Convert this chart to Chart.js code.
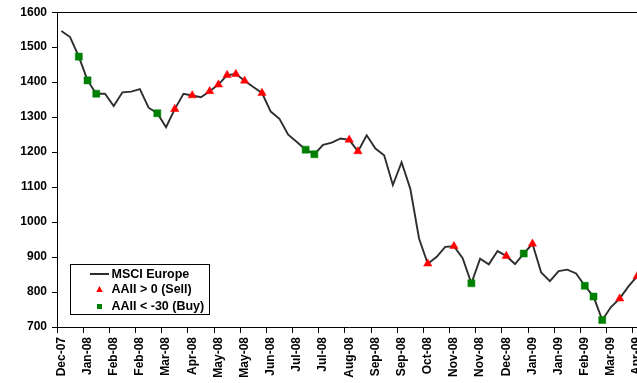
<!DOCTYPE html>
<html>
<head>
<meta charset="utf-8">
<title>MSCI Europe and AAII sentiment signals</title>
<script src="https://cdn.jsdelivr.net/npm/chart.js@4/dist/chart.umd.min.js"></script>
<style>
  html, body { margin: 0; padding: 0; background: #fff; overflow: hidden; }
  #wrap { position: absolute; left: 0; top: 0; width: 660px; height: 383px; }
</style>
</head>
<body>
<div id="wrap"><canvas id="c" width="660" height="383"></canvas></div>
<script>
// Weekly closes, Friday 28 Dec 2007 to Friday 3 Apr 2009 (month of each week)
const weeks = [
  'Dec-07',
  'Jan-08','Jan-08','Jan-08','Jan-08',
  'Feb-08','Feb-08','Feb-08','Feb-08','Feb-08',
  'Mar-08','Mar-08','Mar-08','Mar-08',
  'Apr-08','Apr-08','Apr-08','Apr-08',
  'May-08','May-08','May-08','May-08','May-08',
  'Jun-08','Jun-08','Jun-08','Jun-08',
  'Jul-08','Jul-08','Jul-08','Jul-08',
  'Aug-08','Aug-08','Aug-08','Aug-08','Aug-08',
  'Sep-08','Sep-08','Sep-08','Sep-08',
  'Oct-08','Oct-08','Oct-08','Oct-08','Oct-08',
  'Nov-08','Nov-08','Nov-08','Nov-08',
  'Dec-08','Dec-08','Dec-08','Dec-08',
  'Jan-09','Jan-09','Jan-09','Jan-09','Jan-09',
  'Feb-09','Feb-09','Feb-09','Feb-09',
  'Mar-09','Mar-09','Mar-09','Mar-09',
  'Apr-09'
];

// MSCI Europe index level
const msciEurope = [
  1546, 1529, 1473, 1405, 1367, 1367, 1332, 1371, 1373, 1380,
  1327, 1311, 1271, 1323, 1367, 1362, 1357, 1374, 1393, 1420,
  1423, 1404, 1386, 1369, 1316, 1295, 1250, 1229, 1207, 1194,
  1221, 1227, 1239, 1235, 1202, 1248, 1210, 1191, 1106, 1171,
  1095,  953,  881,  900,  929,  931,  897,  825,  895,  879,
   917,  903,  880,  910,  938,  856,  831,  860,  864,  853,
   818,  787,  720,  757,  781,  816,  845
];

// Weeks with AAII bull-bear spread above 0 (sell) and below -30 (buy)
const sellWeeks = [13, 15, 17, 18, 19, 20, 21, 23, 33, 34, 42, 45, 51, 54, 64, 66];
const buyWeeks  = [2, 3, 4, 11, 28, 29, 47, 53, 60, 61, 62];

// Y axis range and step
const yMin = 700, yMax = 1600, yStep = 100;
// Every third week carries a label and tick mark
const labelEvery = 3;

const seriesNames = ['MSCI Europe', 'AAII > 0 (Sell)', 'AAII < -30 (Buy)'];

const LINE_COLOR = '#2e2e2e';
const SELL_COLOR = '#ff0000';
const BUY_COLOR = '#008000';
const FONT = { family: '"Liberation Sans", Arial, sans-serif', size: 12, weight: 'bold' };

function signalSeries(idx) {
  return msciEurope.map((v, i) => idx.includes(i) ? v : null);
}

// Legend box drawn inside the plot area, lower left
const insideLegend = {
  id: 'insideLegend',
  afterDraw(chart) {
    const ctx = chart.ctx;
    const a = chart.chartArea;
    const bx = a.left + 13.5, by = a.bottom - 62.5, bw = 139, bh = 50;
    ctx.save();
    ctx.fillStyle = '#fff';
    ctx.fillRect(bx, by, bw, bh);
    ctx.strokeStyle = '#000';
    ctx.lineWidth = 1;
    ctx.strokeRect(bx, by, bw, bh);

    const sx = bx + 29;           // symbol centre
    const tx = bx + 41;           // text start
    const rows = [by + 9.5, by + 25, by + 42];

    ctx.strokeStyle = LINE_COLOR;
    ctx.lineWidth = 2;
    ctx.beginPath();
    ctx.moveTo(sx - 9.5, rows[0]);
    ctx.lineTo(sx + 9.5, rows[0]);
    ctx.stroke();

    ctx.fillStyle = SELL_COLOR;
    ctx.beginPath();
    ctx.moveTo(sx, rows[1] - 3.5);
    ctx.lineTo(sx + 3.3, rows[1] + 2.5);
    ctx.lineTo(sx - 3.3, rows[1] + 2.5);
    ctx.closePath();
    ctx.fill();

    ctx.fillStyle = BUY_COLOR;
    ctx.fillRect(sx - 2.5, rows[2] - 2.5, 5, 5);

    ctx.fillStyle = '#000';
    ctx.font = 'bold 12.5px "Liberation Sans", Arial, sans-serif';
    ctx.textBaseline = 'middle';
    ctx.textAlign = 'left';
    seriesNames.forEach((name, i) => ctx.fillText(name, tx, rows[i] + 0.5));
    ctx.restore();
  }
};

// Plot-area frame
const plotFrame = {
  id: 'plotFrame',
  afterDatasetsDraw(chart) {
    const a = chart.chartArea;
    const ctx = chart.ctx;
    ctx.save();
    ctx.strokeStyle = '#000';
    ctx.lineWidth = 1;
    ctx.beginPath();
    ctx.moveTo(Math.round(a.left) + 0.5, Math.round(a.top) + 0.5);
    ctx.lineTo(Math.round(a.right) + 0.5, Math.round(a.top) + 0.5);
    ctx.lineTo(Math.round(a.right) + 0.5, Math.round(a.bottom) + 0.5);
    ctx.stroke();
    ctx.restore();
  }
};

new Chart(document.getElementById('c'), {
  type: 'line',
  data: {
    labels: weeks,
    datasets: [
      {
        label: seriesNames[1],
        data: signalSeries(sellWeeks),
        showLine: false,
        pointStyle: 'triangle',
        pointRadius: 4.8,
        pointBackgroundColor: SELL_COLOR,
        pointBorderColor: SELL_COLOR,
        pointBorderWidth: 0.5,
        order: 1
      },
      {
        label: seriesNames[2],
        data: signalSeries(buyWeeks),
        showLine: false,
        pointStyle: 'rect',
        pointRadius: 5,
        pointBackgroundColor: BUY_COLOR,
        pointBorderColor: BUY_COLOR,
        pointBorderWidth: 0.5,
        order: 2
      },
      {
        label: seriesNames[0],
        data: msciEurope,
        borderColor: LINE_COLOR,
        borderWidth: 1.9,
        pointRadius: 0,
        tension: 0,
        fill: false,
        order: 3
      }
    ]
  },
  options: {
    responsive: false,
    animation: false,
    devicePixelRatio: 1,
    spanGaps: false,
    layout: { padding: { left: 0, top: 11, right: 18.5, bottom: 0 } },
    plugins: {
      legend: { display: false },
      tooltip: { enabled: false }
    },
    scales: {
      x: {
        type: 'category',
        offset: true,
        afterFit(scale) { scale.height = 56; },
        grid: {
          offset: true,
          drawOnChartArea: false,
          tickLength: 6,
          tickWidth: 1,
          tickColor: (c) => (c.index !== undefined && c.index % labelEvery === 0) ? '#000' : 'rgba(0,0,0,0)'
        },
        border: { display: true, color: '#000', width: 1 },
        ticks: {
          autoSkip: false,
          minRotation: 90,
          maxRotation: 90,
          padding: 4,
          color: '#000',
          font: FONT,
          callback: (v, i) => i % labelEvery === 0 ? weeks[i] : ''
        }
      },
      y: {
        min: yMin,
        max: yMax,
        afterFit(scale) { scale.width = 57; },
        grid: {
          drawOnChartArea: false,
          tickLength: 5,
          tickColor: '#000'
        },
        border: { display: true, color: '#000', width: 1 },
        ticks: {
          stepSize: yStep,
          padding: 5,
          color: '#000',
          font: FONT,
          callback: (v) => String(v)
        }
      }
    }
  },
  plugins: [plotFrame, insideLegend]
});
</script>
</body>
</html>
